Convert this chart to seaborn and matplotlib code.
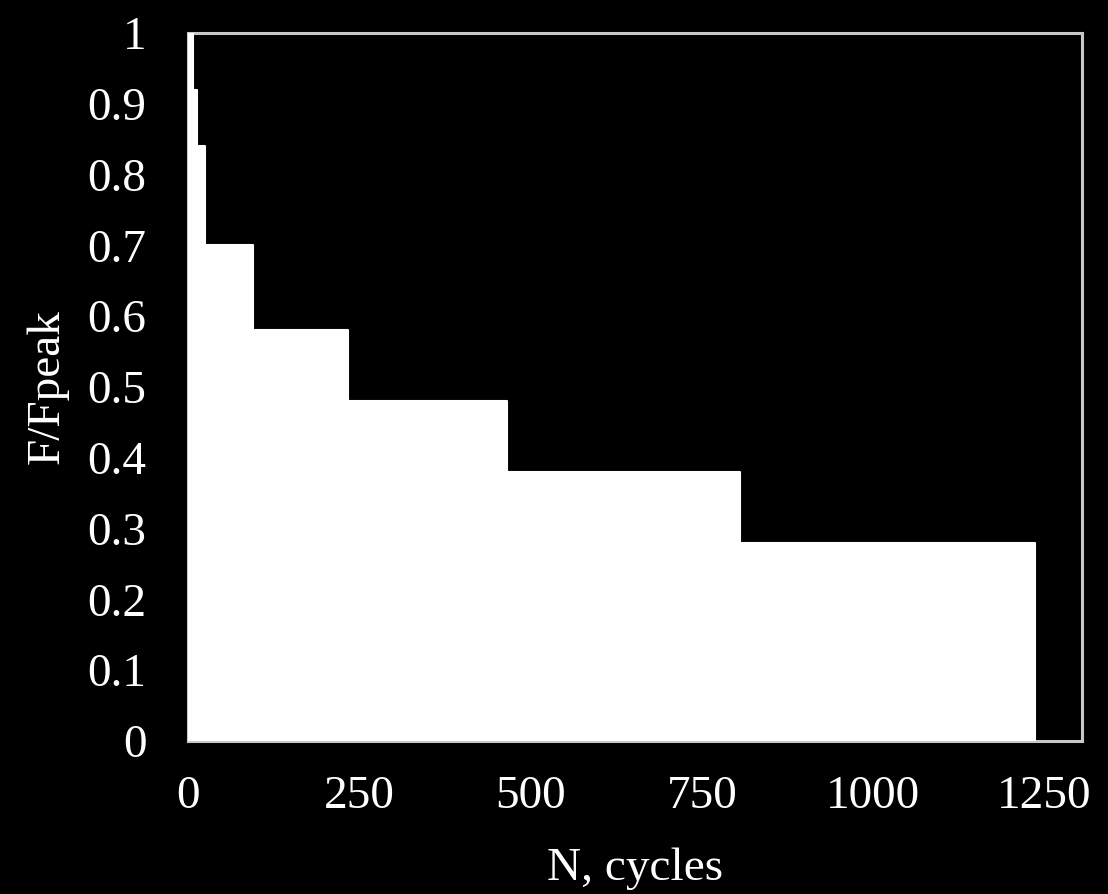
import matplotlib
matplotlib.use("Agg")
import matplotlib.pyplot as plt
import seaborn as sns
import pandas as pd
from matplotlib.ticker import FuncFormatter

# Load block start (cycles) and the normalised load level held from that point on
cycles = [0, 7, 13, 25, 95, 234, 466, 806, 1236]
load_ratio = [1.0, 0.92, 0.84, 0.70, 0.58, 0.48, 0.38, 0.28, 0.0]

x_ticks = [0, 250, 500, 750, 1000, 1250]
y_ticks = [0, 0.1, 0.2, 0.3, 0.4, 0.5, 0.6, 0.7, 0.8, 0.9, 1.0]

x_label = "N, cycles"
y_label = "F/Fpeak"

sns.set_theme(style="dark")
plt.rcParams["font.family"] = ["Liberation Serif", "DejaVu Serif"]

df = pd.DataFrame({"N": cycles, "F": load_ratio})

fig = plt.figure(figsize=(11.08, 8.94), dpi=100, facecolor="black")
ax = fig.add_axes([0.1697, 0.1711, 0.9765 - 0.1697, 0.9631 - 0.1711])
ax.set_facecolor("black")

ax.fill_between(df["N"], df["F"], 0, step="post", color="white", linewidth=0, zorder=2)
sns.lineplot(data=df, x="N", y="F", drawstyle="steps-post", color="white",
             linewidth=1.5, ax=ax, zorder=3)

ax.set_xlim(0, 1305)
ax.set_ylim(0, 1)
ax.set_xticks(x_ticks)
ax.set_yticks(y_ticks)
ax.yaxis.set_major_formatter(FuncFormatter(lambda v, _: f"{v:g}"))
ax.grid(False)

ax.tick_params(axis="both", colors="white", labelsize=34, length=0)
ax.tick_params(axis="y", pad=30)
ax.tick_params(axis="x", pad=25)

for side in ["left", "right", "top", "bottom"]:
    ax.spines[side].set_visible(True)
    ax.spines[side].set_color("#c8c8c8")
    ax.spines[side].set_linewidth(2.2)
    ax.spines[side].set_zorder(1)

ax.set_xlabel(x_label, color="white", fontsize=34, labelpad=21)
ax.set_ylabel(y_label, color="white", fontsize=34, labelpad=13)

fig.savefig("out.png", dpi=100, facecolor="black")
